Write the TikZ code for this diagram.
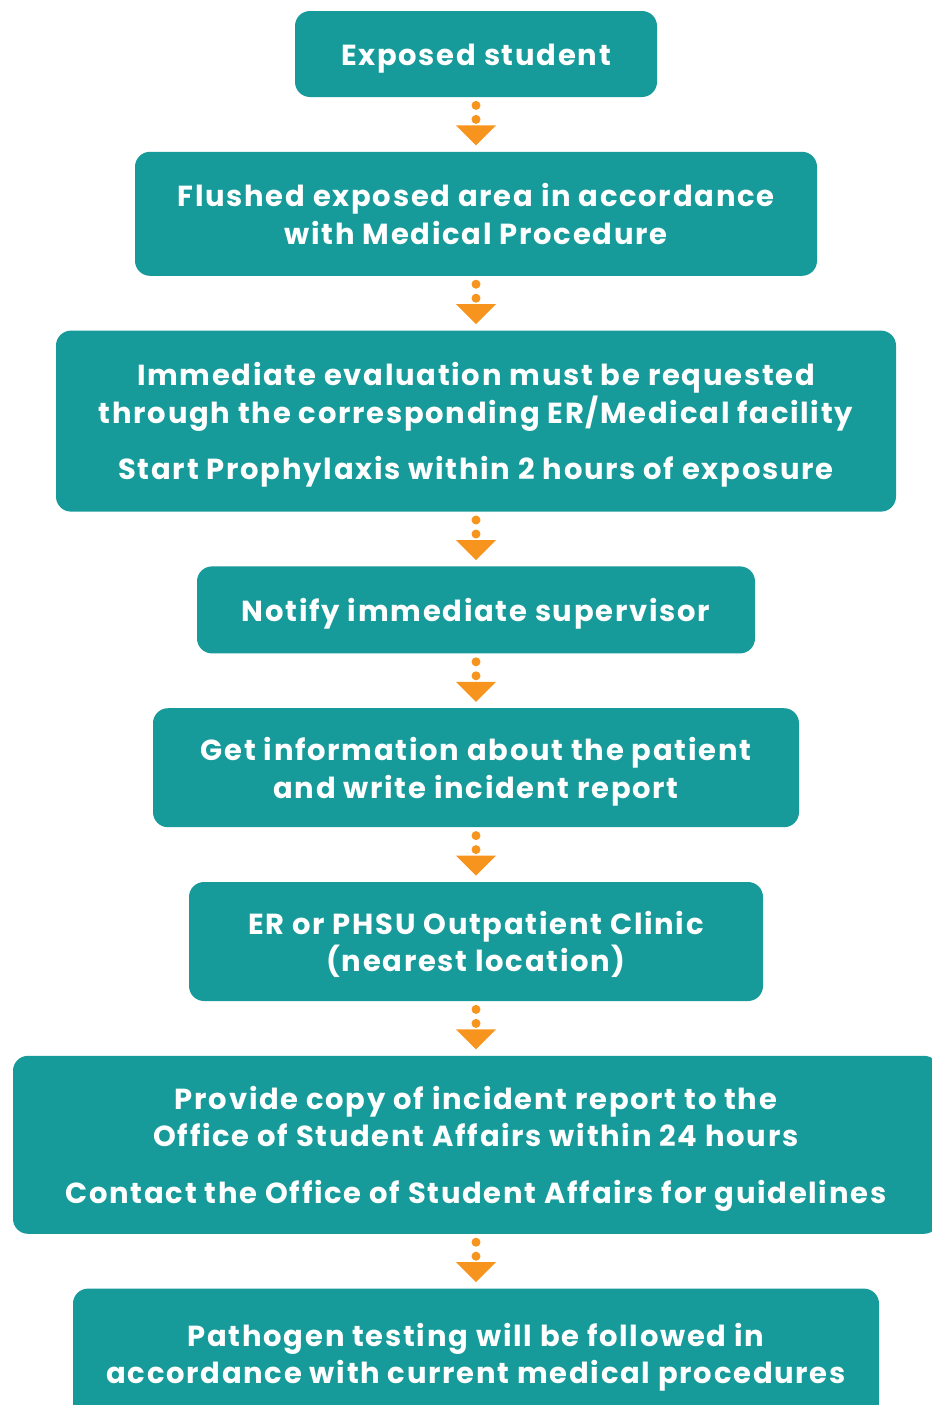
\documentclass[tikz,border=0pt]{standalone}
\usepackage{fontspec}
\setmainfont{Poppins}[LetterSpace=6]
\usetikzlibrary{positioning,arrows.meta}
\definecolor{tealbox}{HTML}{169A9A}
\definecolor{flowarrow}{HTML}{F7941D}

\begin{document}
\begin{tikzpicture}[
  x=0.5pt,y=-0.5pt,
  node distance=27pt,
  stepbox/.style={fill=tealbox,rounded corners=7.5pt,text=white,align=center,
    inner sep=0pt,execute at begin node={\rule{0pt}{15pt}},
    font=\bfseries\fontsize{14.5}{18.7}\selectfont},
  lowtext/.style={text depth=-1.5pt},
  flow/.style={flowarrow,line width=4.5pt,line cap=round,dash pattern=on 0pt off 7pt,
    shorten <=4pt,shorten >=3pt,-{Triangle[width=20pt,length=10pt,line width=0pt]}}
]
\useasboundingbox (0,0) rectangle (932,1405);

\node[stepbox,minimum width=181pt,minimum height=43pt] (exposed) at (476,54) {Exposed student};
\node[stepbox,minimum width=341pt,minimum height=62pt,below=of exposed] (flush)
  {Flushed exposed area in accordance\\with Medical Procedure};
\node[stepbox,lowtext,minimum width=420pt,minimum height=90.5pt,below=of flush] (evaluate)
  {Immediate evaluation must be requested\\through the corresponding ER/Medical facility\\[9.5pt]Start Prophylaxis within 2 hours of exposure};
\node[stepbox,minimum width=279pt,minimum height=43.5pt,below=of evaluate] (notify)
  {Notify immediate supervisor};
\node[stepbox,lowtext,minimum width=323pt,minimum height=59.5pt,below=of notify] (report)
  {Get information about the patient\\and write incident report};
\node[stepbox,lowtext,minimum width=287pt,minimum height=59.5pt,below=of report] (clinic)
  {ER or PHSU Outpatient Clinic\\(nearest location)};
\node[stepbox,lowtext,minimum width=463pt,minimum height=89pt,below=of clinic] (affairs)
  {Provide copy of incident report to the\\Office of Student Affairs within 24 hours\\[10pt]Contact the Office of Student Affairs for guidelines};
\node[stepbox,lowtext,minimum width=403pt,minimum height=64.5pt,below=of affairs] (testing)
  {Pathogen testing will be followed in\\accordance with current medical procedures};

\path[flow] (exposed) edge (flush)
(flush) edge (evaluate)
(evaluate) edge (notify)
(notify) edge (report)
(report) edge (clinic)
(clinic) edge (affairs)
(affairs) edge (testing)
;

\end{tikzpicture}
\end{document}
